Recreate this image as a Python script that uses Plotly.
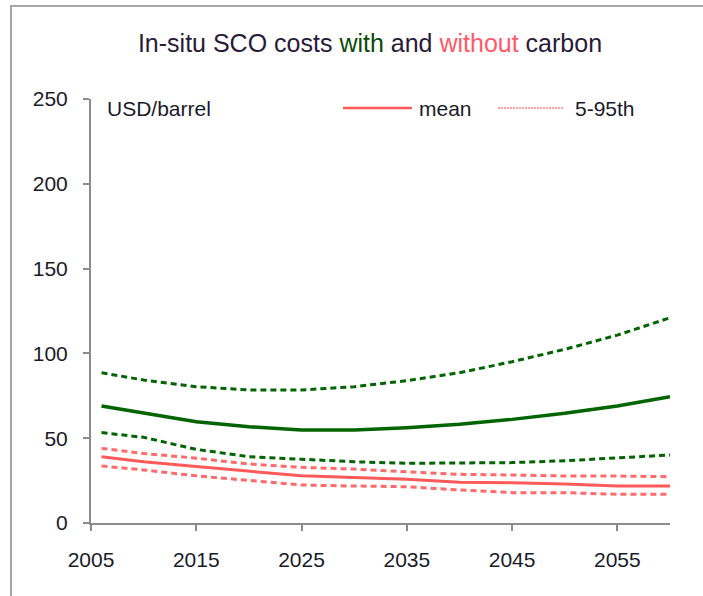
import plotly.graph_objects as go

years = [2006, 2010, 2015, 2020, 2025, 2030, 2035, 2040, 2045, 2050, 2055, 2060]

with_p95 = [88.6, 84.3, 80.4, 78.4, 78.4, 80.4, 83.9, 88.6, 95.1, 102.4, 110.8, 121.0]
with_mean = [69.0, 64.7, 59.7, 56.8, 54.8, 54.8, 56.2, 58.2, 61.1, 64.7, 69.0, 74.5]
with_p5 = [53.3, 50.5, 43.4, 39.1, 37.6, 36.1, 35.2, 35.2, 35.6, 36.7, 38.3, 40.1]

without_p95 = [44.0, 41.0, 38.2, 34.8, 32.8, 31.8, 30.2, 28.7, 28.3, 27.7, 27.7, 27.3]
without_mean = [39.1, 36.1, 33.3, 30.7, 27.8, 26.9, 25.8, 24.0, 23.8, 23.0, 21.8, 21.8]
without_p5 = [33.6, 31.3, 27.8, 25.0, 22.4, 21.8, 21.4, 19.5, 17.9, 17.9, 16.9, 16.9]

x_ticks = [2005, 2015, 2025, 2035, 2045, 2055]
y_ticks = [0, 50, 100, 150, 200, 250]

GREEN = "#006400"
RED = "#ff5a5a"
FONT = "Liberation Sans, Arial, sans-serif"
TXT = "#1a1a2a"
FS = 21

fig = go.Figure()

def add(y, color, width, dash):
    fig.add_trace(go.Scatter(x=years, y=y, mode="lines",
                             line=dict(color=color, width=width, dash=dash),
                             showlegend=False, hoverinfo="skip"))

add(with_p95, GREEN, 3, "6px,4px")
add(with_p5, GREEN, 3, "6px,4px")
add(without_p95, "#ff6a6a", 3, "6px,4px")
add(without_p5, "#ff6a6a", 3, "6px,4px")
add(with_mean, GREEN, 3.5, "solid")
add(without_mean, RED, 3, "solid")

axis_common = dict(showgrid=False, zeroline=False, showline=True,
                   linecolor="#8c8c8c", linewidth=2, ticks="outside",
                   ticklen=6, tickwidth=1.5, tickcolor="#8c8c8c",
                   tickfont=dict(size=FS, family=FONT, color=TXT))

fig.update_layout(
    width=703, height=596,
    margin=dict(l=91, r=33, t=99, b=73),
    paper_bgcolor="white", plot_bgcolor="white",
    font=dict(family=FONT, size=FS, color=TXT),
    xaxis=dict(range=[2005, 2060], tickmode="array", tickvals=x_ticks,
               ticklabelstandoff=11, **axis_common),
    yaxis=dict(range=[0, 250], tickmode="array", tickvals=y_ticks,
               ticklabelstandoff=11, **axis_common),
    title=dict(
        text=("In-situ SCO costs <span style='color:#0a4a0a'>with</span> and "
              "<span style='color:#ff5a6a'>without</span> carbon"),
        x=370 / 703, xanchor="center", y=1 - 43 / 596, yanchor="middle",
        font=dict(family=FONT, size=25, color="#2a1a3a")),
)

# outer frame
fig.add_shape(type="rect", xref="paper", yref="paper",
              x0=(11 - 91) / 579, x1=1.3, y0=-0.4, y1=(523 - 6) / 424,
              line=dict(color="#a6a6a6", width=2), fillcolor="rgba(0,0,0,0)",
              layer="below")

# legend samples
ly = (523 - 108) / 424
fig.add_shape(type="line", xref="paper", yref="paper",
              x0=(343 - 91) / 579, x1=(412 - 91) / 579, y0=ly, y1=ly,
              line=dict(color=RED, width=2.5))
fig.add_shape(type="line", xref="paper", yref="paper",
              x0=(498 - 91) / 579, x1=(563 - 91) / 579, y0=ly, y1=ly,
              line=dict(color="#ff8080", width=1.5, dash="2px,1px"))

fig.add_annotation(xref="paper", yref="paper", x=(105 - 91) / 579, y=ly,
                   text="USD/barrel", showarrow=False, xanchor="left",
                   yanchor="middle", font=dict(size=FS, family=FONT, color=TXT))
fig.add_annotation(xref="paper", yref="paper", x=(417 - 91) / 579, y=ly,
                   text="mean", showarrow=False, xanchor="left",
                   yanchor="middle", font=dict(size=FS, family=FONT, color=TXT))
fig.add_annotation(xref="paper", yref="paper", x=(573 - 91) / 579, y=ly,
                   text="5-95th", showarrow=False, xanchor="left",
                   yanchor="middle", font=dict(size=FS, family=FONT, color=TXT))

fig.write_html("out.html", config={"displayModeBar": False},
               post_script="document.body.style.margin='0';document.body.style.overflow='hidden';")
